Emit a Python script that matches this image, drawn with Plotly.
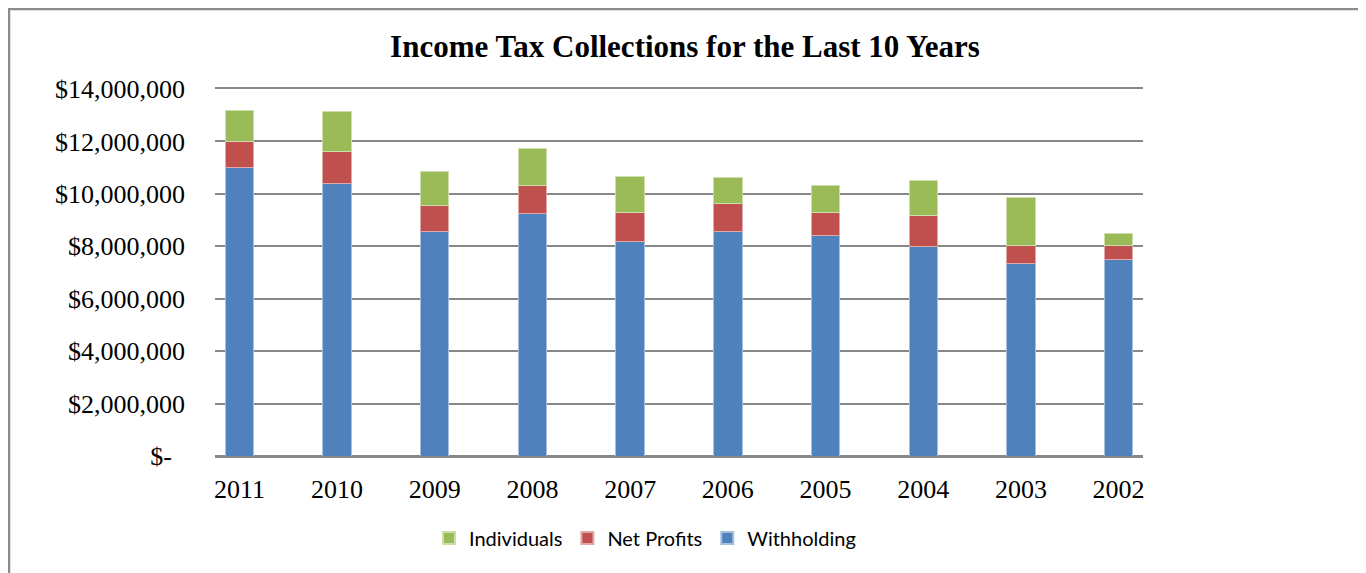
import plotly.graph_objects as go

years = ["2011", "2010", "2009", "2008", "2007", "2006", "2005", "2004", "2003", "2002"]
withholding = [11000000, 10390000, 8550000, 9250000, 8200000, 8550000, 8410000, 8010000, 7340000, 7490000]
net_profits = [1000000, 1210000, 990000, 1050000, 1090000, 1090000, 890000, 1150000, 700000, 550000]
individuals = [1190000, 1550000, 1310000, 1430000, 1360000, 980000, 1020000, 1360000, 1820000, 460000]

y_tickvals = [0, 2000000, 4000000, 6000000, 8000000, 10000000, 12000000, 14000000]
y_ticktext = ["$-\u00a0\u00a0", "$2,000,000", "$4,000,000", "$6,000,000",
              "$8,000,000", "$10,000,000", "$12,000,000", "$14,000,000"]

series = [
    ("Withholding", withholding, "#4F81BD", "#A7C0DE"),
    ("Net Profits", net_profits, "#C0504D", "#E0A8A6"),
    ("Individuals", individuals, "#9BBB59", "#CDDDAC"),
]

fig = go.Figure()
for name, vals, col, edge in series:
    fig.add_trace(go.Bar(
        x=years, y=vals, name=name,
        marker=dict(color=col, line=dict(color=edge, width=1)),
        width=0.29,
    ))

# page is offset by the browser's 8px body margin
OFF = 8
W, H = 1366, 573
L = 215 - OFF
T = 89 - OFF
R = W - (1143 - OFF)
B = H - (456 - OFF)
pw, ph = W - L - R, H - T - B

def px_x(p):
    return (p - OFF - L) / pw

def px_y(p):
    return (H - B - (p - OFF)) / ph

fig.update_layout(
    width=W, height=H,
    barmode="stack",
    paper_bgcolor="white", plot_bgcolor="white",
    margin=dict(l=L, r=R, t=T, b=B, pad=0),
    title=dict(
        text="<b>Income Tax Collections for the Last 10 Years</b>",
        x=px_x(685), xref="paper", xanchor="center",
        y=1 - (46 - OFF) / H, yref="container", yanchor="middle",
        font=dict(family="Liberation Serif", size=31, color="black"),
    ),
    showlegend=True,
    legend=dict(
        orientation="h", traceorder="reversed",
        x=px_x(645), xanchor="center",
        y=px_y(538), yanchor="middle",
        font=dict(family="Lato", size=20, color="black"),
        itemwidth=30, itemsizing="constant",
        bgcolor="rgba(0,0,0,0)",
    ),
    xaxis=dict(
        type="category", range=[-0.25, 9.25],
        showgrid=False, showline=True, mirror=True,
        linecolor="#878787", linewidth=2,
        ticks="", ticklabelstandoff=9,
        tickfont=dict(family="Liberation Serif", size=26, color="black"),
        fixedrange=True,
    ),
    yaxis=dict(
        range=[0, 14000000],
        tickvals=y_tickvals, ticktext=y_ticktext,
        showgrid=True, gridcolor="#878787", gridwidth=2,
        zeroline=True, zerolinecolor="#878787", zerolinewidth=2,
        showline=False, ticks="", ticklabelstandoff=29,
        tickfont=dict(family="Liberation Serif", size=26, color="black"),
        fixedrange=True,
    ),
    shapes=[dict(
        type="rect", xref="paper", yref="paper",
        x0=px_x(9), x1=px_x(1361), y0=px_y(620), y1=px_y(9),
        line=dict(color="#8C8C8C", width=2.5), fillcolor="rgba(0,0,0,0)",
        layer="below",
    )],
)

fig.write_html("out.html")
